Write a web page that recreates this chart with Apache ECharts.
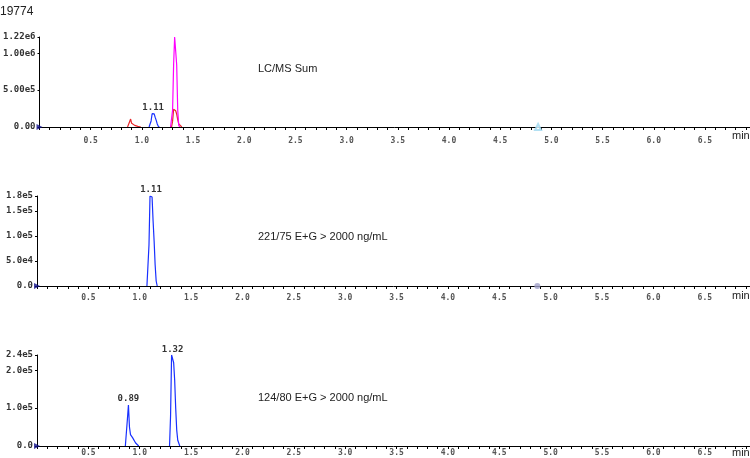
<!DOCTYPE html>
<html>
<head>
<meta charset="utf-8">
<script src="https://cdn.jsdelivr.net/npm/echarts@6/dist/echarts.min.js"></script>
<style>
  html, body { margin: 0; padding: 0; background: #fff; }
  #main { width: 750px; height: 458px; }
</style>
</head>
<body>
<div id="main"></div>
<script>
// sample name + channel names
const sampleName = "19774"
const panelTitles = ["LC/MS Sum", "221/75 E+G > 2000 ng/mL", "124/80 E+G > 2000 ng/mL"]

// 124/80 trace (min, counts) -- null splits the two peaks
const t124 = [0.86, 0.87, 0.88, 0.89, 0.90, 0.91, 0.93, 0.96, 0.99, null,
  1.29, 1.30, 1.31, 1.32, 1.33, 1.34, 1.35, 1.36, 1.37, 1.39]
const i124 = [0, 0, 7.1e4, 1.08e5, 5.0e4, 3.0e4, 2.2e4, 8e3, 0, null,
  0, 7.9e4, 2.4e5, 2.38e5, 2.2e5, 1.74e5, 1.0e5, 4.2e4, 1.5e4, 0]
const apex124 = [0.89, 1.32]

// 221/75 trace
const t221 = [1.07, 1.08, 1.09, 1.10, 1.11, 1.12, 1.13, 1.14, 1.15, 1.16, 1.17]
const i221 = [0, 0, 8.2e4, 1.8e5, 1.8e5, 1.78e5, 1.3e5, 9.0e4, 4.2e4, 1.0e4, 0]
const apex221 = [1.11]

// other trace only in the sum view
const tSum = [1.28, 1.29, 1.30, 1.31, 1.32, 1.33, 1.34, 1.35, 1.36, 1.37]
const iSum = [0, 0, 2.3e5, 8.5e5, 1.22e6, 1.2e6, 8.4e5, 2.3e5, 2e4, 0]

// small markers on the baseline
const markerTimes = [0, 4.87]

// y tick labels per panel
const yTicks1 = [0, 5e5, 1e6, 1.22e6]
const yLabels1 = ["0.00", "5.00e5", "1.00e6", "1.22e6"]
const yTicks2 = [0, 5e4, 1e5, 1.5e5, 1.8e5]
const yLabels2 = ["0.0", "5.0e4", "1.0e5", "1.5e5", "1.8e5"]
const yTicks3 = [0, 1e5, 2e5, 2.4e5]
const yLabels3 = ["0.0", "1.0e5", "2.0e5", "2.4e5"]

const tMax = 6.94

const mono = "DejaVu Sans Mono"
const sans = "Liberation Sans"

function buildData(times, values) {
  return times.map((t, k) => (t === null ? ["-", "-"] : [t, values[k]]))
}

// retention-time labels above the apexes
function apexMarks(times, values, apexes) {
  return apexes.map((a) => {
    const k = times.indexOf(a)
    return { coord: [a, values[k]], value: a.toFixed(2) }
  })
}

function lookup(ticks, labels) {
  return (v) => {
    for (let k = 0; k < ticks.length; k++) {
      if (Math.abs(v - ticks[k]) < 1) return labels[k]
    }
    return ""
  }
}

const grids = [
  { left: 37, right: 0, top: 37, height: 90 },
  { left: 37, right: 0, top: 196, height: 90 },
  { left: 37, right: 0, top: 355, height: 91 }
]

const labelMargins = [10, 8, 3]

const xAxes = grids.map((g, k) => ({
  type: "value", gridIndex: k, min: 0, max: tMax, interval: 0.5,
  z: 3,
  axisLine: { onZero: false, lineStyle: { color: "#000", width: 1 } },
  axisTick: { show: true, length: 3, lineStyle: { color: "#000" } },
  minorTick: { show: true, splitNumber: 5, length: 3, lineStyle: { color: "#000" } },
  splitLine: { show: false },
  axisLabel: {
    margin: labelMargins[k], fontFamily: mono, fontSize: 8, fontWeight: "bold", color: "#555",
    formatter: (v) => (v > 0.01 && v < 6.6 && Math.abs(v * 2 - Math.round(v * 2)) < 1e-6) ? v.toFixed(1) : "",
    showMinLabel: false, showMaxLabel: false
  }
}))

const yDefs = [
  [yTicks1, yLabels1, 5e5],
  [yTicks2, yLabels2, 5e4],
  [yTicks3, yLabels3, 1e5]
]
const yAxes = yDefs.map((d, k) => ({
  type: "value", gridIndex: k, min: 0, max: d[0][d[0].length - 1], interval: d[2],
  axisLine: { show: true, lineStyle: { color: "#000", width: 1 } },
  axisTick: { show: true, length: 2, lineStyle: { color: "#000" } },
  splitLine: { show: false },
  axisLabel: {
    margin: 4, fontFamily: mono, fontSize: 9, fontWeight: "bold", color: "#333",
    formatter: lookup(d[0], d[1]), showMaxLabel: true
  }
}))

function trace(k, times, values, color, apexes) {
  const s = {
    type: "line", xAxisIndex: k, yAxisIndex: k,
    data: buildData(times, values),
    showSymbol: false, symbol: "none", connectNulls: false,
    lineStyle: { color: color, width: 1.2 },
    animation: false, z: 2
  }
  if (apexes) {
    s.markPoint = {
      symbol: "circle", symbolSize: 0, animation: false,
      label: {
        show: true, position: "top", distance: 2, formatter: "{c}",
        fontFamily: mono, fontSize: 9, fontWeight: "bold", color: "#333"
      },
      data: apexMarks(times, values, apexes)
    }
  }
  return s
}

function markers(k, times, colors, symbols) {
  return {
    type: "scatter", xAxisIndex: k, yAxisIndex: k, clip: false, z: 4,
    data: times.map((t, j) => ({
      value: [t, 0],
      symbol: symbols[j],
      symbolRotate: j === 0 ? -90 : 0,
      itemStyle: { color: colors[j] }
    })),
    symbolSize: 6, animation: false
  }
}

const titleStyle = { fontFamily: sans, fontWeight: "normal", color: "#222" }
const titles = [
  { text: sampleName, left: 0, top: 6, padding: 0, textStyle: Object.assign({ fontSize: 12 }, titleStyle) }
]
const titleTops = [63, 231, 392]
panelTitles.forEach((p, k) => {
  titles.push({ text: p, left: 258, top: titleTops[k], padding: 0, textStyle: Object.assign({ fontSize: 11 }, titleStyle) })
})
const minTops = [130, 290, 447]
minTops.forEach((y) => {
  titles.push({ text: "min", left: 732, top: y, padding: 0, textStyle: Object.assign({ fontSize: 11 }, titleStyle) })
})

const myChart = echarts.init(document.getElementById("main"))
myChart.setOption({
  animation: false,
  title: titles,
  grid: grids,
  xAxis: xAxes,
  yAxis: yAxes,
  series: [
    trace(0, t124, i124, "#e8262a", null),
    trace(0, tSum, iSum, "#ff00ff", null),
    trace(0, t221, i221, "#1830ff", apex221),
    markers(0, markerTimes, ["#10108a", "#9fd8f0"], ["triangle", "emptyTriangle"]),
    trace(1, t221, i221, "#1830ff", apex221),
    markers(1, markerTimes, ["#10108a", "#a0a0c8"], ["triangle", "circle"]),
    trace(2, t124, i124, "#1830ff", apex124),
    markers(2, [markerTimes[0]], ["#10108a"], ["triangle"])
  ]
})
</script>
</body>
</html>
